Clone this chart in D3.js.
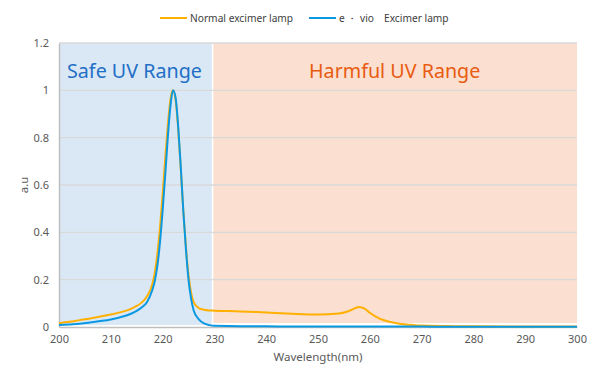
<!DOCTYPE html>
<html>
<head>
<meta charset="utf-8">
<script src="https://cdn.jsdelivr.net/npm/d3@7"></script>
<style>
  body { margin: 0; background: #fff; }
  text { font-family: "Noto Sans", "Open Sans", sans-serif; }
</style>
</head>
<body>
<div id="chart"></div>
<script>
const WIDTH = 600, HEIGHT = 384;

// data
const wavelengths = [200,202,204,206,208,210,212,214,215,216,217,218,218.5,219,219.5,220,220.5,221,221.5,222,222.5,223,223.5,224,224.5,225,225.5,226,227,228,229,230,235,240,245,250,254,256,258,259,260,262,264,266,268,270,275,280,290,300];
const normalLamp = [0.016,0.022,0.029,0.036,0.044,0.053,0.063,0.078,0.089,0.104,0.13,0.18,0.23,0.31,0.42,0.56,0.71,0.85,0.96,1.0,0.96,0.84,0.67,0.49,0.34,0.22,0.145,0.105,0.08,0.073,0.07,0.069,0.066,0.061,0.056,0.053,0.057,0.068,0.085,0.078,0.06,0.034,0.021,0.013,0.009,0.006,0.004,0.003,0.002,0.002];
const evioLamp = [0.008,0.011,0.014,0.019,0.025,0.032,0.042,0.057,0.068,0.083,0.106,0.155,0.195,0.26,0.36,0.49,0.64,0.8,0.93,1.0,0.97,0.85,0.68,0.49,0.33,0.2,0.12,0.07,0.032,0.015,0.008,0.005,0.003,0.003,0.002,0.002,0.002,0.002,0.002,0.002,0.002,0.002,0.002,0.002,0.002,0.002,0.001,0.001,0.001,0.001];
const xTicks = [200,210,220,230,240,250,260,270,280,290,300];
const yTicks = [0,0.2,0.4,0.6,0.8,1,1.2];
const safeRange = [200, 229.5];
const harmfulRange = [229.8, 300];
const seriesNames = ["Normal excimer lamp", "e \u30FB vio\u3000Excimer lamp"];
const colors = {"Normal excimer lamp": "#ffb000", "e \u30FB vio\u3000Excimer lamp": "#0a98e2"};

const LEFT = 59, RIGHT = 577, TOP = 43, BOTTOM = 327;

const svg = d3.select("#chart").append("svg").attr("width", WIDTH).attr("height", HEIGHT)

const x = d3.scaleLinear().domain([200, 300]).range([LEFT, RIGHT])
const y = d3.scaleLinear().domain([0, 1.2]).range([BOTTOM, TOP])

// shaded ranges
svg.append("rect").attr("x", x(safeRange[0]) + 1).attr("y", y(1.2))
  .attr("width", x(safeRange[1]) - x(safeRange[0]) - 1).attr("height", y(0) - y(1.2) - 2).attr("fill", "#dae8f5")
svg.append("rect").attr("x", x(harmfulRange[0])).attr("y", y(1.2))
  .attr("width", x(harmfulRange[1]) - x(harmfulRange[0])).attr("height", y(0) - y(1.2) - 4).attr("fill", "#fbdfd0")

// gridlines
svg.append("g").selectAll("line").data(yTicks.filter(d => d > 0)).enter().append("line")
  .attr("x1", LEFT).attr("x2", RIGHT).attr("y1", d => y(d)).attr("y2", d => y(d))
  .attr("stroke", "#d9d9d9").attr("stroke-width", 1.3)

// axes
const xAxis = d3.axisBottom(x).tickValues(xTicks).tickSize(0).tickPadding(8)
const gx = svg.append("g").attr("transform", "translate(0," + BOTTOM + ")").call(xAxis)
gx.select(".domain").attr("stroke", "#bfbfbf").attr("stroke-width", 1.5)
gx.selectAll("text").attr("fill", "#595959").style("font-size", "11px")

const yAxis = d3.axisLeft(y).tickValues(yTicks).tickSize(0).tickPadding(10).tickFormat(d3.format("~g"))
const gy = svg.append("g").attr("transform", "translate(" + LEFT + ",0)").call(yAxis)
gy.select(".domain").attr("stroke", "#bfbfbf").attr("stroke-width", 1.5)
gy.selectAll("text").attr("fill", "#595959").style("font-size", "11px")

svg.append("text").attr("x", (LEFT + RIGHT) / 2).attr("y", 361).attr("text-anchor", "middle")
  .attr("fill", "#595959").style("font-size", "11.5px").text("Wavelength(nm)")
svg.append("text").attr("transform", "translate(28," + ((TOP + BOTTOM) / 2) + ") rotate(-90)").attr("text-anchor", "middle")
  .attr("fill", "#595959").style("font-size", "11.5px").text("a.u")

// range labels
svg.append("text").attr("x", 67).attr("y", 78).attr("fill", "#1f6fc6").style("font-size", "19.7px").text("Safe UV Range")
svg.append("text").attr("x", 309).attr("y", 78).attr("fill", "#e85b10").style("font-size", "19.7px").text("Harmful UV Range")

// lines
const line = d3.line().x((d, i) => x(wavelengths[i])).y(d => y(d)).curve(d3.curveMonotoneX)
svg.append("path").datum(normalLamp).attr("d", line).attr("fill", "none")
  .attr("stroke", colors[seriesNames[0]]).attr("stroke-width", 2)
svg.append("path").datum(evioLamp).attr("d", line).attr("fill", "none")
  .attr("stroke", colors[seriesNames[1]]).attr("stroke-width", 2)

// legend
const legendX = [160, 309]
seriesNames.forEach((name, i) => {
  const row = svg.append("g").attr("transform", "translate(" + legendX[i] + ",18)")
  row.append("line").attr("x1", 0).attr("x2", 27).attr("stroke", colors[name]).attr("stroke-width", 2)
  row.append("text").attr("x", 30).attr("y", 4).attr("fill", "#404040").style("font-size", "10.2px").text(name)
})
</script>
</body>
</html>
